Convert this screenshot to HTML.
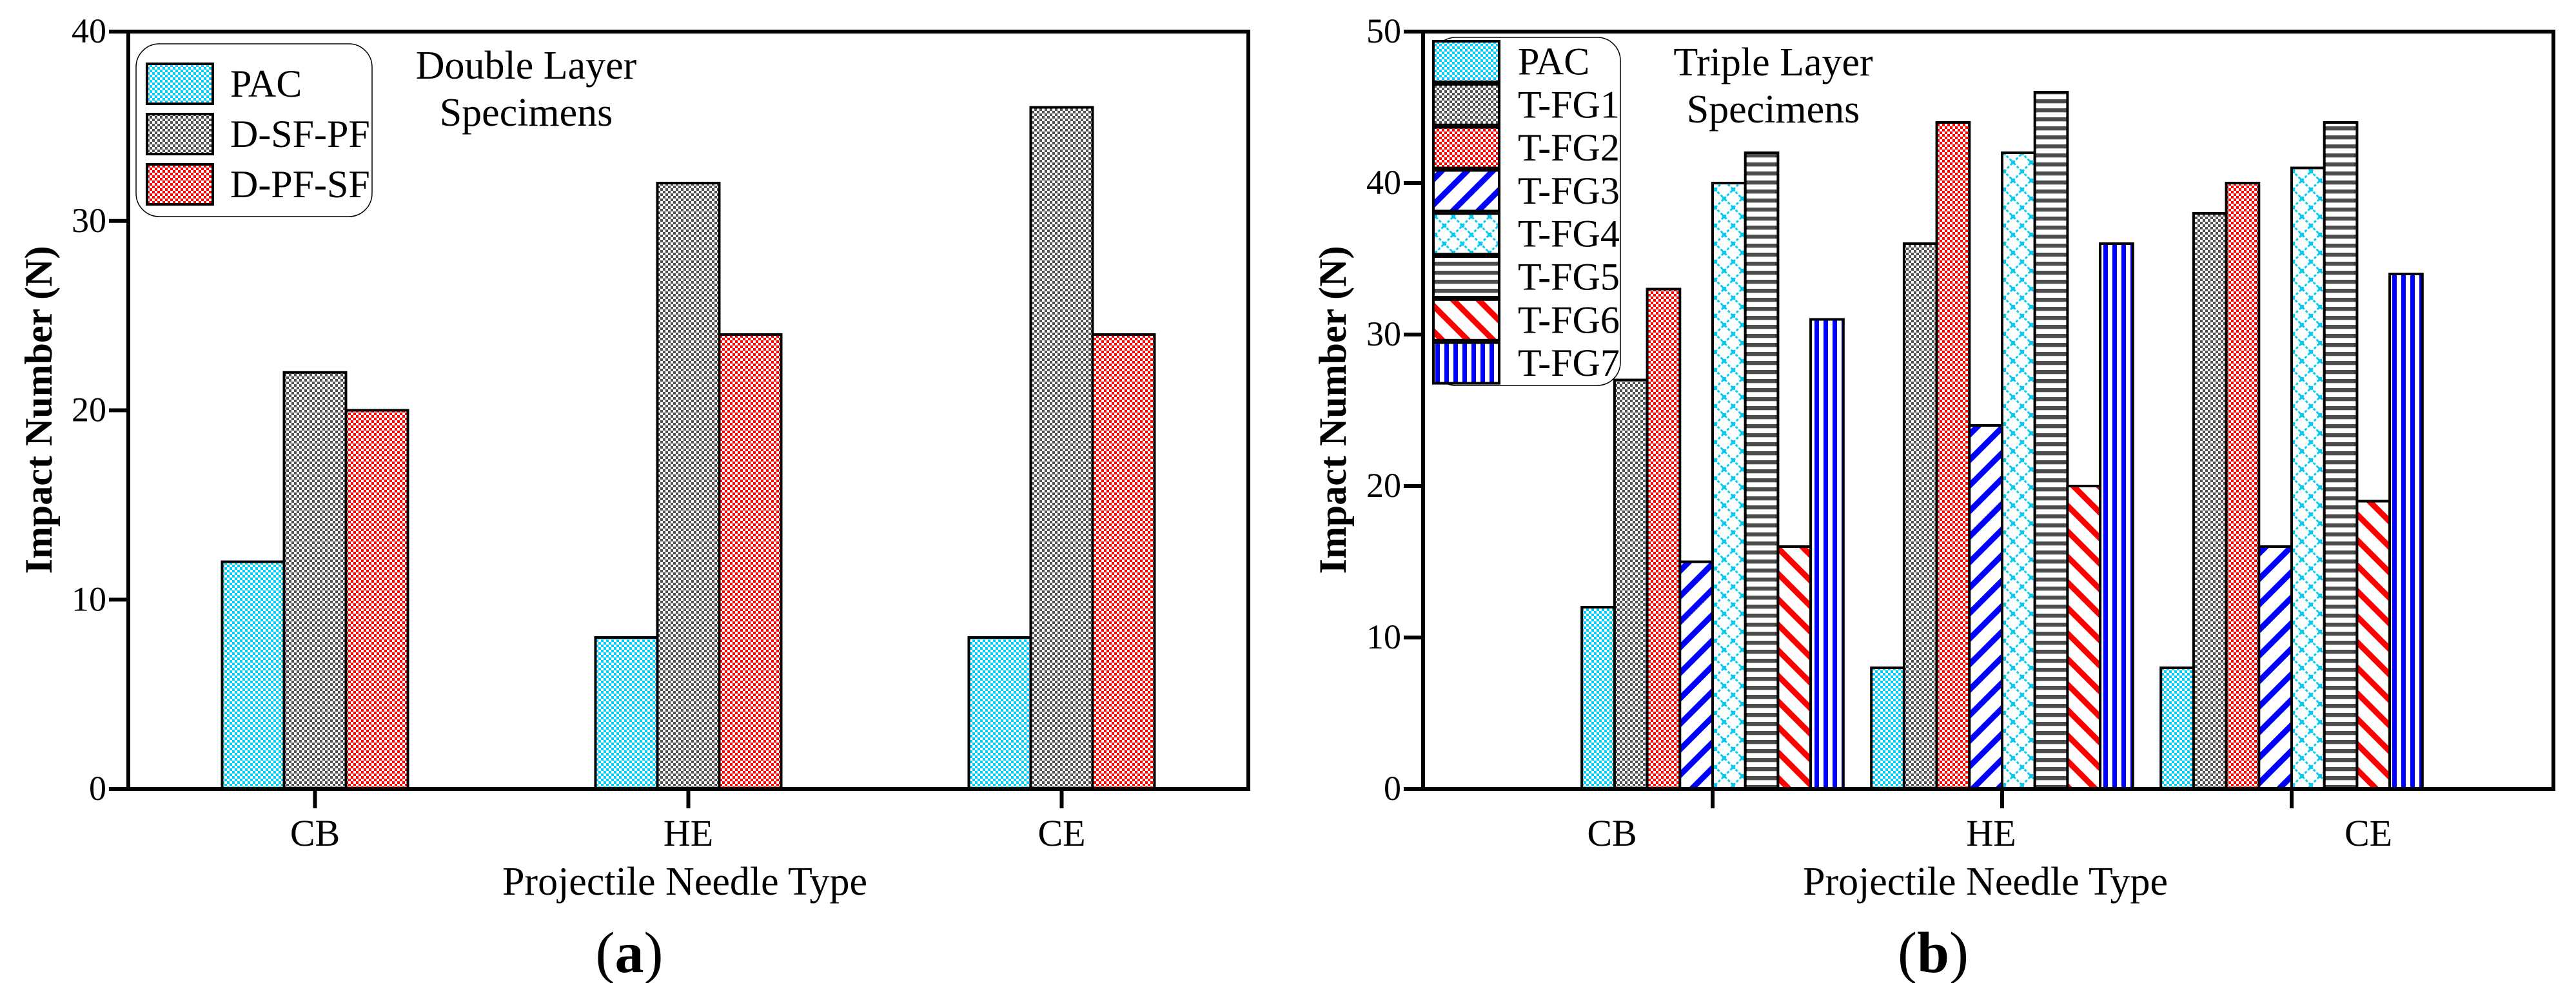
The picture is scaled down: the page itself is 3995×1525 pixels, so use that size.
<!DOCTYPE html>
<html><head><meta charset="utf-8"><style>
html,body{margin:0;padding:0;background:#fff}
svg{display:block}
svg text{font-family:"Liberation Serif","DejaVu Serif",serif !important;fill:#000}
</style></head><body>
<svg id="fig" width="3995" height="1525" viewBox="0 0 3995 1525" xmlns="http://www.w3.org/2000/svg" font-family="Liberation Serif, DejaVu Serif, serif">
<defs>
<pattern id="p-cyan" width="8" height="8" patternUnits="userSpaceOnUse"><rect width="8" height="8" fill="#00ccf5"/><rect width="4" height="4" fill="#fff"/><rect x="4" y="4" width="4" height="4" fill="#fff"/></pattern>
<pattern id="p-gray" width="8" height="8" patternUnits="userSpaceOnUse"><rect width="8" height="8" fill="#505050"/><rect width="4" height="4" fill="#fff"/><rect x="4" y="4" width="4" height="4" fill="#fff"/></pattern>
<pattern id="p-red" width="8" height="8" patternUnits="userSpaceOnUse"><rect width="8" height="8" fill="#ff0000"/><rect width="4" height="4" fill="#fff"/><rect x="4" y="4" width="4" height="4" fill="#fff"/></pattern>
<pattern id="p-bdiag" width="28" height="28" patternUnits="userSpaceOnUse" patternTransform="rotate(45)"><rect width="28" height="28" fill="#fff"/><rect width="9" height="28" fill="#0000ff"/></pattern>
<pattern id="p-rdiag" width="28" height="28" patternUnits="userSpaceOnUse" patternTransform="rotate(-45)"><rect width="28" height="28" fill="#fff"/><rect width="9" height="28" fill="#ff0000"/></pattern>
<pattern id="p-diamond" width="28" height="28" patternUnits="userSpaceOnUse"><rect width="28" height="28" fill="#fff"/><path d="M0 14 L14 0 L28 14 L14 28 Z" fill="none" stroke="#00ccf5" stroke-width="3" stroke-dasharray="4 3"/><rect x="11" y="-3" width="6" height="6" fill="#00ccf5"/><rect x="11" y="25" width="6" height="6" fill="#00ccf5"/><rect x="-3" y="11" width="6" height="6" fill="#00ccf5"/><rect x="25" y="11" width="6" height="6" fill="#00ccf5"/></pattern>
<pattern id="p-hstripe" width="14" height="14" patternUnits="userSpaceOnUse"><rect width="14" height="14" fill="#fff"/><rect y="0" width="14" height="6" fill="#4d4d4d"/><rect y="6" width="14" height="1" fill="#ccc"/></pattern>
<pattern id="p-vstripe" width="14" height="14" patternUnits="userSpaceOnUse"><rect width="14" height="14" fill="#fff"/><rect x="0" width="7" height="14" fill="#0000ff"/></pattern>
</defs>
<g id="chartA"></g>
<g id="chartB"></g>
</svg>
<script>
// ---- Chart A data ----
const catsA = ["CB", "HE", "CE"];
const seriesNamesA = ["PAC", "D-SF-PF", "D-PF-SF"];
const pacA = [12, 8, 8];
const dsfpfA = [22, 32, 36];
const dpfsfA = [20, 24, 24];
const ticksA = [0, 10, 20, 30, 40];
// ---- Chart B data ----
const catsB = ["CB", "HE", "CE"];
const seriesNamesB = ["PAC", "T-FG1", "T-FG2", "T-FG3", "T-FG4", "T-FG5", "T-FG6", "T-FG7"];
const pacB = [12, 8, 8];
const fg1B = [27, 36, 38];
const fg2B = [33, 44, 40];
const fg3B = [15, 24, 16];
const fg4B = [40, 42, 41];
const fg5B = [42, 46, 44];
const fg6B = [16, 20, 19];
const fg7B = [31, 36, 34];
const ticksB = [0, 10, 20, 30, 40, 50];

const NS = "http://www.w3.org/2000/svg";
const FF = "Liberation Serif, DejaVu Serif, serif";
function mk(parent, tag, attrs, txt) {
  const e = document.createElementNS(NS, tag);
  for (const k in attrs) e.setAttribute(k, attrs[k]);
  if (tag === "text") e.setAttribute("font-family", FF);
  if (txt !== undefined) e.textContent = txt;
  parent.appendChild(e);
  return e;
}

function drawChart(g, cfg) {
  const y = v => cfg.y0 - (v / cfg.ymax) * (cfg.y0 - cfg.y1);
  cfg.series.forEach((vals, si) => {
    vals.forEach((v, ci) => {
      const cx = cfg.groupCenter(ci);
      const x = cx - cfg.nSeries * cfg.bw / 2 + si * cfg.bw;
      const r = mk(g, "rect", {x: x, y: y(v), width: cfg.bw, height: cfg.y0 - y(v), fill: "url(#" + cfg.fills[si] + ")", stroke: "#000", "stroke-width": 4});
      
      
    });
  });
  const fr = mk(g, "rect", {x: cfg.x0, y: cfg.y1, width: cfg.x1 - cfg.x0, height: cfg.y0 - cfg.y1, fill: "none", stroke: "#000", "stroke-width": 6});
  
  
  cfg.ticks.forEach(t => {
    mk(g, "line", {x1: cfg.x0 - 30, x2: cfg.x0, y1: y(t), y2: y(t), stroke: "#000", "stroke-width": 6});
    const tl = mk(g, "text", {x: cfg.x0 - 34, y: y(t) + 17, "font-size": 54, "text-anchor": "end"}, String(t));
    
    
  });
  cfg.xTicks.forEach(xt => {
    mk(g, "line", {x1: xt, x2: xt, y1: cfg.y0, y2: cfg.y0 + 30, stroke: "#000", "stroke-width": 6});
  });
  cfg.cats.forEach((c, ci) => {
    const cl = mk(g, "text", {x: cfg.labelX[ci], y: 1312, "font-size": 58, "text-anchor": "middle"}, c);
    
    
  });
  const yt = mk(g, "text", {x: 0, y: 0, "font-size": 60, "font-weight": "bold", "text-anchor": "middle", transform: "translate(" + cfg.yTitleX + ",636) rotate(-90)"}, "Impact Number (N)");
  
  
  const xt = mk(g, "text", {x: cfg.xTitleX, y: 1388, "font-size": 62, "text-anchor": "middle"}, "Projectile Needle Type");
  
  
  const pl = mk(g, "text", {x: cfg.panelX, y: 1508, "font-size": 90, "text-anchor": "middle"});
  
  
  mk(pl, "tspan", {}, "(");
  mk(pl, "tspan", {"font-weight": "bold"}, cfg.panel);
  mk(pl, "tspan", {}, ")");
  const a1 = mk(g, "text", {x: cfg.annX, y: cfg.annY, "font-size": 62, "text-anchor": "middle"}, cfg.ann[0]);
  
  
  const a2 = mk(g, "text", {x: cfg.annX, y: cfg.annY + 73, "font-size": 62, "text-anchor": "middle"}, cfg.ann[1]);
  
  
  const lg = mk(g, "g", {});
  
  
  mk(lg, "rect", {x: cfg.leg.x, y: cfg.leg.y, width: cfg.leg.w, height: cfg.leg.h, rx: 36, fill: "#fff", stroke: "#000", "stroke-width": 1.5});
  cfg.seriesNames.forEach((n, si) => {
    const ey = cfg.leg.rowY + si * cfg.leg.pitch;
    const ent = mk(lg, "g", {});
    
    
    mk(ent, "rect", {x: cfg.leg.sx, y: ey, width: 102, height: cfg.leg.sh, fill: "url(#" + cfg.fills[si] + ")", stroke: "#000", "stroke-width": 4});
    mk(ent, "text", {x: cfg.leg.tx, y: ey + cfg.leg.sh / 2 + 20, "font-size": 60}, n);
  });
}

(function(){
  const x0 = 199, x1 = 1936, w = (x1 - x0) / 3;
  drawChart(document.getElementById("chartA"), {
    x0: x0, x1: x1, y0: 1224, y1: 49, ymax: 40,
    cats: catsA, seriesNames: seriesNamesA,
    series: [pacA, dsfpfA, dpfsfA],
    fills: ["p-cyan", "p-gray", "p-red"],
    nSeries: 3, bw: 96,
    groupCenter: i => x0 + w * (i + 0.5),
    ticks: ticksA,
    xTicks: [0,1,2].map(i => x0 + w * (i + 0.5)),
    labelX: [0,1,2].map(i => x0 + w * (i + 0.5)),
    yTitleX: 80, xTitleX: 1062, panelX: 976, panel: "a",
    annX: 816, annY: 122, ann: ["Double Layer", "Specimens"],
    leg: {x: 211, y: 68, w: 366, h: 268, sx: 228, tx: 357, rowY: 99, pitch: 78, sh: 62}
  });
})();

(function(){
  const x0 = 2207, x1 = 3960, step = 449;
  drawChart(document.getElementById("chartB"), {
    x0: x0, x1: x1, y0: 1224, y1: 49, ymax: 50,
    cats: catsB, seriesNames: seriesNamesB,
    series: [pacB, fg1B, fg2B, fg3B, fg4B, fg5B, fg6B, fg7B],
    fills: ["p-cyan", "p-gray", "p-red", "p-bdiag", "p-diamond", "p-hstripe", "p-rdiag", "p-vstripe"],
    nSeries: 8, bw: 50.7,
    groupCenter: i => x0 + step * (i + 1),
    ticks: ticksB,
    xTicks: [0,1,2].map(i => x0 + step * (i + 1)),
    labelX: [2500, 3088, 3673],
    yTitleX: 2087, xTitleX: 3079, panelX: 2998, panel: "b",
    annX: 2750, annY: 117, ann: ["Triple Layer", "Specimens"],
    leg: {x: 2222, y: 58, w: 291, h: 540, sx: 2223, tx: 2354, rowY: 64, pitch: 66.8, sh: 63}
  });
})();
</script>
</body></html>
